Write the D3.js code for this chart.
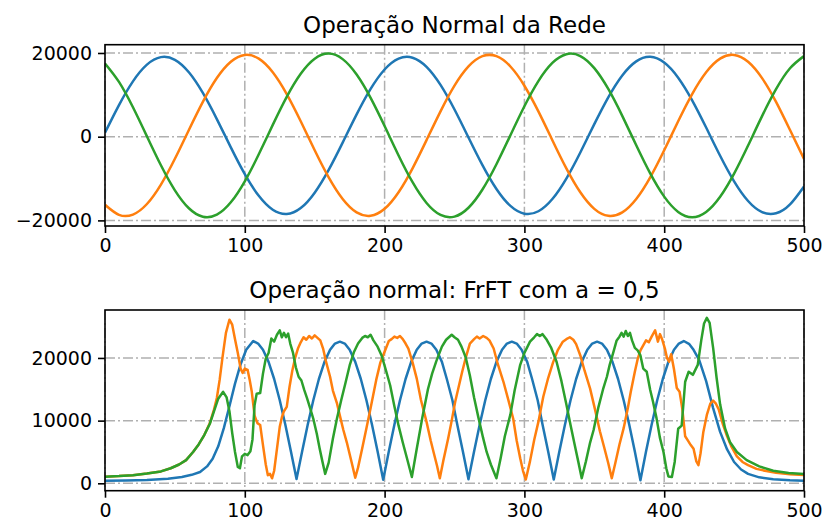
<!DOCTYPE html>
<meta charset="utf-8">
<script src="https://d3js.org/d3.v7.min.js"></script>
<style>
  body { margin: 0; background: #fff; }
  text { font-family: "DejaVu Sans", sans-serif; fill: #000; }
</style>
<div id="chart"></div>
<script>
// tick labels
var xTicks = [0, 100, 200, 300, 400, 500];
var topYTicks = [-20000, 0, 20000];
var bottomYTicks = [0, 10000, 20000];

// top panel: one sample every 10 steps
var topX = d3.range(0, 501, 10);
var topBlue = [955, 7562, 13228, 17213, 19009, 18376, 15397, 10458, 4204, -2557,
  -8947, -14138, -17457, -18471, -17051, -13372, -7933, -1418, 5318, 11405,
  16051, 18652, 18873, 16686, 12372, 6492, -192, -6810, -12508, -16544,
  -18394, -17819, -14893, -10001, -3764, 2995, 9405, 14633, 18002, 19076,
  17713, 14090, 8680, 2182, -4560, -10671, -15361, -18016, -18298, -16164, -11896];
var topOrange = [-16268, -18667, -18604, -16086, -11444, -5281, 1609, 8329, 14006, 17906,
  19521, 18643, 15386, 10171, 3676, -3257, -9729, -14890, -18099, -18911,
  -17231, -13271, -7560, -824, 6056, 12191, 16784, 19236, 19234, 16772,
  12177, 6040, -842, -7575, -13289, -17239, -18912, -18093, -14890, -9714,
  -3242, 3692, 10185, 15394, 18649, 19521, 17900, 13994, 8314, 1592, -5296];
var topGreen = [17496, 13086, 7019, 79, -6834, -12818, -17103, -19131, -18636, -15684,
  -10660, -4214, 2818, 9524, 15033, 18630, 19850, 18532, 14851, 9281,
  2546, -4480, -10885, -15839, -18703, -19097, -16978, -12617, -6578, 351,
  7274, 13293, 17625, 19711, 19277, 16382, 11400, 4980, -2048, -8771,
  -14319, -17971, -19250, -17993, -14365, -8834, -2116, 4914, 11346, 16343, 19262];

// bottom panel: FrFT magnitude, [sample, value]
var frftBlue = [[0,400],[15,430],[30,520],[45,720],[55,1000],[62,1350],[68,1800],[73,2700],
  [77,3900],[81,5900],[85,8800],[89,12300],[93,15900],[97,19000],[101,21300],[106,22700],
  [109.5,22290],[113,21300],[117,19370],[121,16640],[125,13250],[129,9330],[133,5070],[137,700],
  [141,5070],[145,9330],[149,13250],[153,16640],[157,19370],[161,21300],[164.5,22290],[168,22600],
  [171.5,22290],[175,21300],[179,19370],[183,16640],[187,13250],[191,9330],[195,5070],[199,550],
  [203,5070],[207,9330],[211,13250],[215,16640],[219,19370],[223,21300],[226.5,22290],[230,22600],
  [233.5,22290],[237,21300],[241,19370],[244.5,16640],[248.5,13250],[252,9330],[256,5070],[260,650],
  [264,5070],[268,9330],[272,13250],[276,16640],[280,19370],[284,21300],[287.5,22290],[291,22600],
  [294.5,22290],[298,21300],[302,19370],[305.5,16640],[309.5,13250],[313,9330],[317,5070],[321,600],
  [325,5070],[329,9330],[333,13250],[337,16640],[341,19370],[345,21300],[348.5,22290],[352,22600],
  [355.5,22290],[359,21300],[363,19370],[367,16640],[371,13250],[375,9330],[379,5070],[383,500],
  [387,5070],[391,9330],[395,13250],[399,16640],[403,19370],[407,21300],[410.5,22290],[414,22700],
  [418,22200],[421,21300],[425,19700],[430,16300],[435,12000],[440,8200],[445,5400],[450,3400],
  [455,2200],[460,1500],[468,950],[478,650],[490,480],[500,420]];
var frftOrange = [[0,1050],[10,1150],[20,1300],[30,1550],[40,1900],[47,2400],[53,3000],[58,3700],
  [63,5000],[67,6200],[71,7700],[75,9600],[78,11800],[80,13600],[82,16500],[84,20000],[86.5,24000],
  [89,26100],[91,25300],[93,23000],[95,20800],[97,18300],[98.5,17600],[100,18300],[102,18100],
  [103.5,16500],[105,14600],[107,10800],[109,9600],[111,9300],[113,6100],[115,3000],[116.5,1300],
  [118,1500],[119.5,800],[121,2000],[123,5500],[125,9000],[126.5,10500],[128,11500],[130,12200],
  [132,15400],[134,18000],[136,20000],[138,21500],[140,22500],[142,23300],[144,22900],[146,23500],
  [148,23100],[150,23600],[152,23200],[154,22800],[156,21500],[158,19500],[161,17000],[163,14800],
  [166,12700],[168,10800],[170.5,8500],[173,6500],[175.5,4200],[177,2800],[179,900],[181,2500],
  [184,5600],[187,8800],[190,12000],[194,16500],[197,19300],[200,21000],[203,22700],[205,23000],
  [207,23400],[209,23200],[211,23500],[213,23000],[215,22300],[217,21500],[220,19300],[223,16700],
  [226,13300],[230,9800],[233,6800],[235,5000],[237.5,2800],[239.5,800],[242,3600],[245.5,7200],
  [248,10000],[250.5,13000],[253,15400],[255.5,17800],[258,20000],[261,22300],[264,23000],
  [266,23400],[268,23100],[270.5,23500],[273,23200],[275,22800],[278,21500],[281,19000],
  [285,16200],[288.5,13300],[292,10300],[294.5,6800],[297,4000],[299,2000],[301,600],[304,3500],
  [307,6900],[310,9800],[313.5,13800],[317,16800],[320.5,19300],[324,21300],[327.5,22600],
  [330,23000],[332.5,23300],[335,22900],[337,22200],[340,20400],[343,18000],[347,15100],
  [350.5,11800],[354,8300],[357,5800],[360,3200],[362.5,800],[365,3200],[368,6200],[371,8800],
  [374,12000],[376,14500],[379,17800],[381,19800],[383,21200],[385,22000],[387,22800],[389,22500],
  [391,23400],[393.5,24400],[395.5,22600],[397,23800],[398.5,23000],[400.5,21500],[402,20000],
  [403.5,19400],[405,20600],[407,18200],[409,15200],[411,14600],[413,11800],[415,7500],[417,6800],
  [419,6100],[421,5500],[423,3500],[424.5,2900],[426,4800],[428,8200],[430.5,10900],[433,12700],
  [435,13200],[437,12700],[439,11800],[442,9400],[445,7500],[448,5900],[452,4300],[456,3400],
  [460,2900],[466,2300],[472,2000],[480,1700],[490,1450],[500,1320]];
var frftGreen = [[0,1050],[10,1150],[20,1300],[30,1550],[40,1900],[47,2400],[53,3000],[58,3700],
  [63,5000],[67,6200],[71,7700],[75,9500],[78,11500],[81,13500],[84.5,14600],[87,13700],[89,11500],
  [91,8000],[93,5000],[95,2600],[96.5,2400],[98,4300],[100,4700],[102,4500],[104,5100],[105.5,7000],
  [107,12500],[108.5,14300],[111,14400],[113,17500],[115,19900],[117,20800],[119,23100],[121,22600],
  [123,23700],[125,24400],[126.5,23300],[128,24000],[129.5,23300],[131,23900],[132.5,22300],
  [134.5,20800],[136.5,18500],[138.5,17000],[140.5,16400],[142.5,14900],[144.5,13600],[147,11800],
  [149,10300],[151.5,7900],[153.5,5600],[155.5,3500],[157.5,1500],[160,3300],[163,7100],[166,10400],
  [169,13300],[172,16000],[175,18800],[178,20900],[181,22300],[184,23200],[186,23500],[188,23300],
  [190,23700],[192,22800],[195,21800],[198,20300],[201,18000],[204,15600],[207,12300],[210,9200],
  [213,6500],[216,4000],[219.5,1000],[223,5500],[227,10500],[231,15000],[234,17500],[237,19500],
  [241,21800],[244,22900],[246,23300],[248,23700],[250,23300],[252.5,22900],[255,21800],[258,20100],
  [261,17200],[264,13700],[267,10600],[270.5,7200],[273,5000],[276,3000],[280,800],[283,4000],
  [286,7500],[290,11000],[293,14800],[297,18900],[300,20800],[304,22600],[307,23300],[309,23800],
  [311,23500],[313,23800],[316,22900],[319,21700],[323,19400],[326.5,16300],[330,12600],[333,9300],
  [336,6100],[338.5,3500],[341,800],[344,3500],[347,6500],[349.5,8500],[353,12200],[356.5,15200],
  [359,17000],[361,18900],[363.5,20800],[366,22800],[368,23400],[369.5,24000],[371,23400],
  [372.5,24300],[374,23500],[375.5,24000],[377,22800],[379,21600],[381,21200],[383,20400],
  [385,18300],[387.5,17800],[390,14900],[392,13000],[394.5,10400],[397,7200],[399.5,5000],
  [401.5,2400],[403,1100],[405.5,1000],[407.5,3400],[410,8700],[412.5,9200],[415,16200],[417.5,17800],
  [420.5,17300],[424,18900],[426.5,22800],[428.5,25500],[430.5,26400],[432.5,25600],[435,21600],
  [437.5,16800],[440,12600],[443.5,8800],[447,6600],[452,5000],[459,3700],[468,2700],[478,2000],
  [489,1650],[500,1480]];

var colors = ["#1f77b4", "#ff7f0e", "#2ca02c"];

var width = 824, height = 522;
var svg = d3.select("#chart").append("svg")
  .attr("width", width).attr("height", height);

var x = d3.scaleLinear().domain([0, 500]).range([105, 804]);

function panel(opts) {
  var y = d3.scaleLinear().domain(opts.domain).range([opts.y1, opts.y0]);
  var g = svg.append("g");
  var clipId = "clip" + opts.id;
  svg.append("clipPath").attr("id", clipId).append("rect")
    .attr("x", 105).attr("y", opts.y0).attr("width", 699).attr("height", opts.y1 - opts.y0);

  // grid, dash-dot
  var grid = g.append("g").attr("stroke", "#b0b0b0").attr("stroke-width", 1.5)
    .attr("stroke-dasharray", "10,3,2,3");
  grid.selectAll(".gx").data(xTicks).enter().append("line")
    .attr("x1", d => x(d)).attr("x2", d => x(d)).attr("y1", opts.y0).attr("y2", opts.y1);
  grid.selectAll(".gy").data(opts.yTicks).enter().append("line")
    .attr("x1", 105).attr("x2", 804).attr("y1", d => y(d)).attr("y2", d => y(d));

  // curves
  var lines = g.append("g").attr("clip-path", "url(#" + clipId + ")");
  opts.series.forEach(function(s, i) {
    lines.append("path").datum(s)
      .attr("fill", "none").attr("stroke", colors[i]).attr("stroke-width", 2.5)
      .attr("stroke-linejoin", "round")
      .attr("d", d3.line().x(d => x(d[0])).y(d => y(d[1])).curve(opts.curve));
  });

  // spines
  g.append("rect").attr("x", 105).attr("y", opts.y0).attr("width", 699)
    .attr("height", opts.y1 - opts.y0).attr("fill", "none")
    .attr("stroke", "#000").attr("stroke-width", 1.6);

  var fmt = d3.format("d");
  var ax = g.append("g").attr("transform", "translate(0," + opts.y1 + ")")
    .call(d3.axisBottom(x).tickValues(xTicks).tickFormat(fmt).tickSize(7).tickPadding(6));
  var ay = g.append("g").attr("transform", "translate(105,0)")
    .call(d3.axisLeft(y).tickValues(opts.yTicks).tickFormat(fmt).tickSize(7).tickPadding(6));
  [ax, ay].forEach(function(a) {
    a.select(".domain").remove();
    a.selectAll("line").attr("stroke", "#000").attr("stroke-width", 1.6);
    a.selectAll("text").attr("font-family", "DejaVu Sans").attr("font-size", 19)
      .attr("fill", "#000");
  });

  g.append("text").attr("x", (105 + 804) / 2).attr("y", opts.y0 - 12)
    .attr("text-anchor", "middle").attr("font-size", 23).text(opts.title);
}

panel({
  id: 1, y0: 44.7, y1: 226, domain: [-21340, 21980], yTicks: topYTicks,
  title: "Operação Normal da Rede", curve: d3.curveNatural,
  series: [topBlue, topOrange, topGreen].map(v => v.map((d, i) => [topX[i], d]))
});

panel({
  id: 2, y0: 310, y1: 490.7, domain: [-1180, 27650], yTicks: bottomYTicks,
  title: "Operação normal: FrFT com a = 0,5", curve: d3.curveLinear,
  series: [frftBlue, frftOrange, frftGreen]
});
</script>
